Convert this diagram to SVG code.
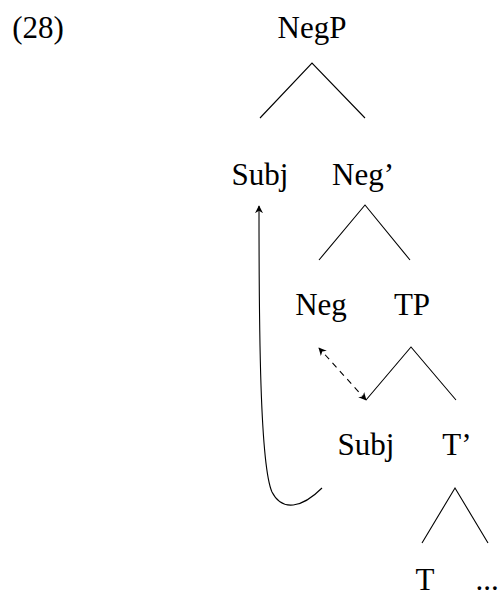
<svg xmlns="http://www.w3.org/2000/svg" width="501" height="601" viewBox="0 0 501 601">
<style>
text{font-family:'Liberation Serif','DejaVu Serif',serif;font-size:31px;fill:#000;text-anchor:middle}
.br{stroke:#000;stroke-width:1.1;fill:none}
.mv{stroke:#000;stroke-width:1.1;fill:none}
</style>
<defs>
<marker id="ah" viewBox="0 0 10 10" refX="9" refY="5" markerWidth="8" markerHeight="8" markerUnits="userSpaceOnUse" orient="auto-start-reverse">
<path d="M0,0 L10,5 L0,10 L3,5 Z" fill="#000"/>
</marker>
</defs>
<rect width="501" height="601" fill="#fff"/>
<text x="38" y="38">(28)</text>
<g id="NegP"><text x="312" y="38">NegP</text></g>
<g id="Subj1"><text x="260" y="185">Subj</text></g>
<g id="NegBar"><text x="363" y="185">Neg’</text></g>
<g id="Neg"><text x="321" y="315">Neg</text></g>
<g id="TP"><text x="412" y="315">TP</text></g>
<g id="Subj2"><text x="366" y="455">Subj</text></g>
<g id="TBar"><text x="457" y="455">T’</text></g>
<g id="T"><text x="425" y="590">T</text></g>
<g id="Dots"><text x="487" y="590">...</text></g>
<g id="connectors">
<path class="br" d="M260,118 L312,63 L365,118"/>
<path class="br" d="M319,260 L365,205 L410,260"/>
<path class="br" d="M366,400 L411,347 L456,400"/>
<path class="br" d="M422,543 L455,488 L488,543"/>
<path class="mv" d="M322,488 C302,508 282,512 272,492 C260,465 259,330 259,206" marker-end="url(#ah)"/>
<path class="mv" d="M366,400 L319,348" stroke-dasharray="6,5" marker-start="url(#ah)" marker-end="url(#ah)"/>
</g>
</svg>
